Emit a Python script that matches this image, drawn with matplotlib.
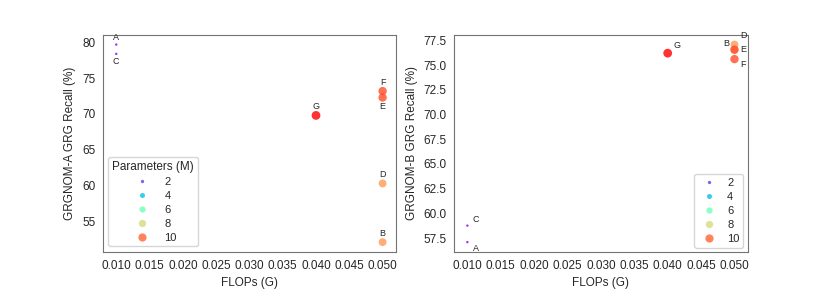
import matplotlib
matplotlib.use("Agg")
import matplotlib.pyplot as plt
import seaborn as sns
import pandas as pd

labels = ["A", "B", "C", "D", "E", "F", "G"]
flops = [0.01, 0.05, 0.01, 0.05, 0.05, 0.05, 0.04]
params = [1.3, 9.2, 1.3, 9.2, 10.3, 10.3, 11.3]
recall_a = [79.7, 52.1, 78.4, 60.3, 72.3, 73.2, 69.8]
recall_b = [57.1, 76.55, 58.77, 77.07, 76.55, 75.6, 76.2]

# label offsets in points (dx, dy)
offs_a = {"A": (0, 2), "B": (0, 3), "C": (0, -2), "D": (0, 3),
          "E": (0, -3), "F": (0, 3), "G": (0, 3)}
offs_b = {"A": (4, -1), "B": (-4, 1), "C": (4, 1), "D": (4, 3),
          "E": (4, 0), "F": (4, -1), "G": (4, 2)}

sns.set_style("white")
plt.rcParams["font.family"] = ["Liberation Sans", "DejaVu Sans"]
plt.rcParams["axes.edgecolor"] = "0.45"

df = pd.DataFrame({"label": labels, "FLOPs (G)": flops, "Parameters (M)": params,
                   "a": recall_a, "b": recall_b})

fig = plt.figure(figsize=(8.3, 2.89), dpi=100)
ax1 = fig.add_axes([0.124, 0.128, 0.353, 0.752])
ax2 = fig.add_axes([0.547, 0.128, 0.354, 0.752])

for ax, col, offs, ylab in [(ax1, "a", offs_a, "GRGNOM-A GRG Recall (%)"),
                            (ax2, "b", offs_b, "GRGNOM-B GRG Recall (%)")]:
    sns.scatterplot(data=df, x="FLOPs (G)", y=col, hue="Parameters (M)",
                    size="Parameters (M)", palette="rainbow", sizes=(3, 40),
                    alpha=0.8, linewidth=0, legend="brief", ax=ax)
    for lab, x, y in zip(df["label"], df["FLOPs (G)"], df[col]):
        dx, dy = offs[lab]
        ax.annotate(lab, (x, y), xytext=(dx, dy), textcoords="offset points",
                    fontsize=6.5, ha="center" if dx == 0 else ("left" if dx > 0 else "right"),
                    va="bottom" if dy > 0 else ("top" if dy < 0 else "center"))
    ax.set_ylabel(ylab, fontsize=8.5)
    ax.set_xlabel("FLOPs (G)", fontsize=8.5)
    ax.tick_params(labelsize=8.5, pad=2)
    ax.set_xticks([0.010, 0.015, 0.020, 0.025, 0.030, 0.035, 0.040, 0.045, 0.050])
    ax.xaxis.set_major_formatter(matplotlib.ticker.FormatStrFormatter("%.3f"))

ax1.set_yticks([55, 60, 65, 70, 75, 80])
ax2.yaxis.set_major_formatter(matplotlib.ticker.FormatStrFormatter("%.1f"))

ax1.legend(loc="lower left", title="Parameters (M)", fontsize=8, title_fontsize=8.5,
           labelspacing=0.35, handletextpad=0.9, borderpad=0.35, handlelength=2.2)
ax2.legend(loc="lower right", fontsize=8, labelspacing=0.35, handletextpad=0.6,
           borderpad=0.35, handlelength=2.0, borderaxespad=0.4)

fig.savefig("out.png", dpi=100)
